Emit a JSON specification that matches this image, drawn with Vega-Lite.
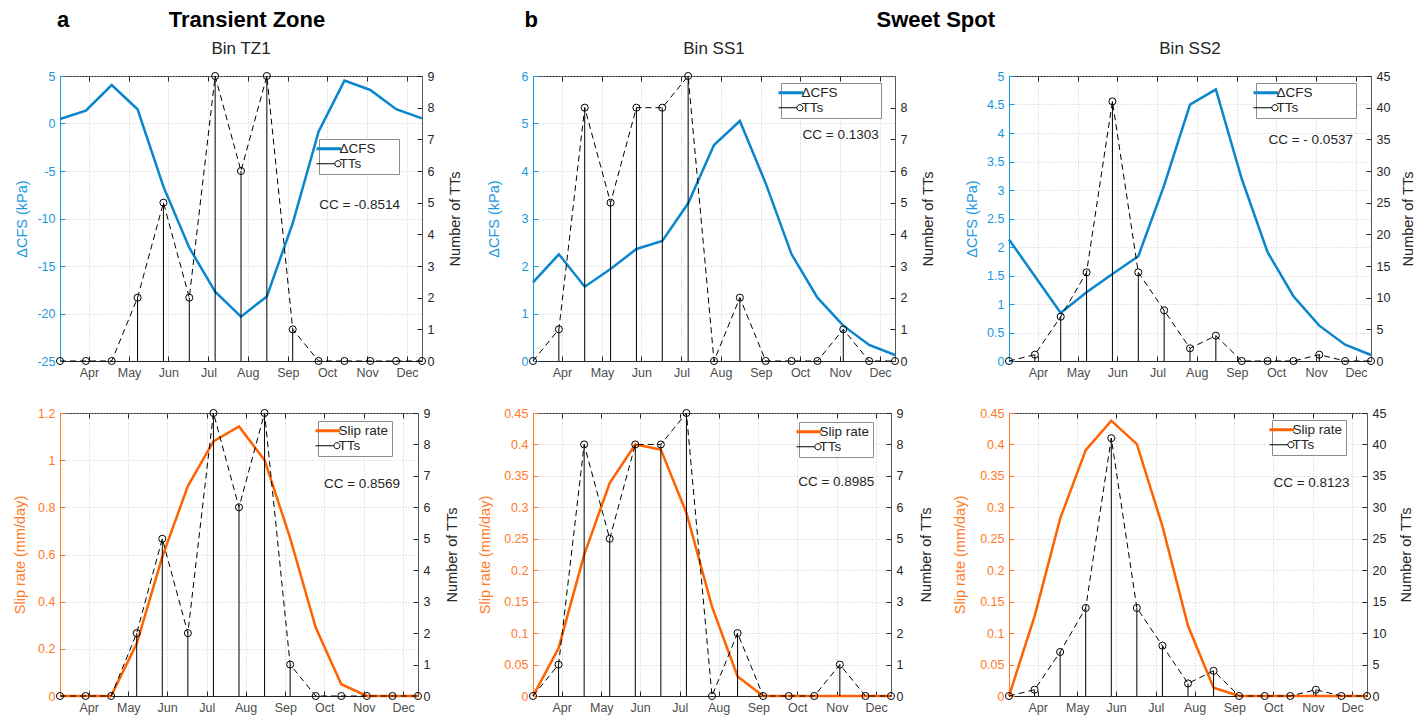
{
"$schema": "https://vega.github.io/schema/vega-lite/v6.json",
"padding": {"left": 12, "top": 8, "right": 4, "bottom": 4},
"background": "white",
"datasets": {
"tz1": [
{"i":0,"cfs":0.47,"slip":0,"tt":0},{"i":1,"cfs":1.35,"slip":0,"tt":0},{"i":2,"cfs":4.05,"slip":0,"tt":0},{"i":3,"cfs":1.5,"slip":0.222,"tt":2},{"i":4,"cfs":-6.65,"slip":0.59,"tt":5},{"i":5,"cfs":-13.07,"slip":0.89,"tt":2},{"i":6,"cfs":-17.7,"slip":1.08,"tt":9},{"i":7,"cfs":-20.33,"slip":1.143,"tt":6},{"i":8,"cfs":-18.2,"slip":1.0,"tt":9},{"i":9,"cfs":-10.5,"slip":0.67,"tt":1},{"i":10,"cfs":-0.86,"slip":0.29,"tt":0},{"i":11,"cfs":4.51,"slip":0.05,"tt":0},{"i":12,"cfs":3.53,"slip":0,"tt":0},{"i":13,"cfs":1.5,"slip":0,"tt":0},{"i":14,"cfs":0.54,"slip":0,"tt":0}],
"ss1": [
{"i":0,"cfs":1.656,"slip":0,"tt":0},{"i":1,"cfs":2.246,"slip":0.076,"tt":1},{"i":2,"cfs":1.565,"slip":0.2245,"tt":8},{"i":3,"cfs":1.937,"slip":0.3386,"tt":5},{"i":4,"cfs":2.358,"slip":0.4,"tt":8},{"i":5,"cfs":2.526,"slip":0.392,"tt":8},{"i":6,"cfs":3.32,"slip":0.291,"tt":9},{"i":7,"cfs":4.547,"slip":0.142,"tt":0},{"i":8,"cfs":5.053,"slip":0.031,"tt":2},{"i":9,"cfs":3.74,"slip":0,"tt":0},{"i":10,"cfs":2.246,"slip":0,"tt":0},{"i":11,"cfs":1.333,"slip":0,"tt":0},{"i":12,"cfs":0.744,"slip":0,"tt":1},{"i":13,"cfs":0.337,"slip":0,"tt":0},{"i":14,"cfs":0.126,"slip":0,"tt":0}],
"ss2": [
{"i":0,"cfs":2.131,"slip":0,"tt":0},{"i":1,"cfs":1.487,"slip":0.1266,"tt":1},{"i":2,"cfs":0.843,"slip":0.282,"tt":7},{"i":3,"cfs":1.206,"slip":0.391,"tt":14},{"i":4,"cfs":1.528,"slip":0.4378,"tt":41},{"i":5,"cfs":1.838,"slip":0.4005,"tt":14},{"i":6,"cfs":3.08,"slip":0.27,"tt":8},{"i":7,"cfs":4.497,"slip":0.1117,"tt":2},{"i":8,"cfs":4.766,"slip":0.0133,"tt":4},{"i":9,"cfs":3.197,"slip":0,"tt":0},{"i":10,"cfs":1.909,"slip":0,"tt":0},{"i":11,"cfs":1.136,"slip":0,"tt":0},{"i":12,"cfs":0.62,"slip":0,"tt":1},{"i":13,"cfs":0.287,"slip":0,"tt":0},{"i":14,"cfs":0.105,"slip":0,"tt":0}]
},
"config": {
"font": "Liberation Sans",
"view": {"stroke": "#262626", "strokeWidth": 1},
"axis": {"labelFontSize": 12.5, "titleFontSize": 14.5, "titleFontWeight": "normal", "tickSize": -5, "tickCount": 30, "labelPadding": 10, "gridColor": "#c8c8c8", "gridDash": [1, 2], "gridOpacity": 0.9, "domainColor": "#262626", "tickColor": "#262626", "labelColor": "#262626", "titleColor": "#262626", "labelFont": "Liberation Sans", "titleFont": "Liberation Sans"},
"axisX": {"labelColor": "#4d4d4d"},
"legend": {"orient": "none", "strokeColor": "#8c8c8c", "fillColor": "#ffffff", "padding": 3, "labelFontSize": 13.5, "labelColor": "#262626", "rowPadding": 0, "symbolSize": 600, "labelOffset": 4, "labelLimit": 300},
"title": {"fontSize": 17, "fontWeight": "normal", "color": "#262626", "offset": 12, "anchor": "middle"}
},
"resolve": {"scale": {"color": "independent"}},
"spacing": 14,
"hconcat": [
{"title": {"text": "a", "anchor": "start", "fontSize": 22, "fontWeight": "bold", "color": "#000000", "dx": 45, "dy": 23, "offset": 0},
 "resolve": {"scale": {"color": "independent"}},
 "vconcat": [
 {"title": {"text": "Transient Zone", "fontSize": 22, "fontWeight": "bold", "color": "#000000", "offset": 8, "dx": 10},
  "resolve": {"scale": {"color": "independent"}},
  "spacing": 27,
  "vconcat": [
  {"title": {"text": "Bin TZ1"}, "width": 362, "height": 285, "data": {"name": "tz1"},
   "resolve": {"scale": {"y": "independent"}, "axis": {"x": "independent"}},
   "layer": [
   {"layer": [
    {"mark": {"type": "line", "strokeWidth": 2.5},
     "encoding": {
      "x": {"field": "i", "type": "quantitative", "scale": {"domain": [0, 14], "nice": false, "zero": false}, "axis": {"orient": "bottom", "values": [1.12, 2.67, 4.19, 5.74, 7.26, 8.81, 10.33, 11.88, 13.42], "tickCount": 30, "labelExpr": "['Apr','May','Jun','Jul','Aug','Sep','Oct','Nov','Dec'][round((datum.value-1.12)/1.5375)]", "title": null, "grid": true}},
      "y": {"field": "cfs", "type": "quantitative", "scale": {"domain": [-25, 5], "nice": false, "zero": false}, "axis": {"orient": "left", "values": [-25, -20, -15, -10, -5, 0, 5], "tickCount": 30, "labelExpr": "'' + datum.value", "title": "ΔCFS (kPa)", "titleX": -38, "titleY": 142.5, "titleAngle": 270, "titleBaseline": "middle", "titleAlign": "center", "labelColor": "#1A98DD", "titleColor": "#1A98DD", "domainColor": "#1A98DD", "tickColor": "#1A98DD", "grid": true}},
      "color": {"datum": "ΔCFS", "type": "nominal", "scale": {"domain": ["ΔCFS", "TTs"], "range": ["#0A86CD", "#000000"]}, "legend": {"title": null, "legendX": 259, "legendY": 63, "encode": {"labels": {"update": {"text": {"signal": "datum.label + '\u2800\u2800'"}}}, "symbols": {"update": {"shape": {"signal": "datum.value === 'TTs' ? 'M-1,0H0.5M1,0A0.25,0.25,0,1,1,0.5,0A0.25,0.25,0,1,1,1,0' : 'stroke'"}, "strokeWidth": {"signal": "datum.value === 'TTs' ? 1 : 3"}, "fill": {"value": "transparent"}}}}}}
     }},
    {"data": {"values": [{}]}, "mark": {"type": "text", "text": "CC = -0.8514", "align": "right", "baseline": "middle", "fontSize": 13.5, "color": "#262626"},
     "encoding": {"x": {"datum": 13.15, "type": "quantitative"}, "y": {"datum": -8.55, "type": "quantitative"}}}
   ]},
   {"layer": [
    {"mark": {"type": "rule", "color": "#000000", "strokeWidth": 1},
     "encoding": {
      "x": {"field": "i", "type": "quantitative", "axis": {"orient": "top", "values": [1.12, 2.67, 4.19, 5.74, 7.26, 8.81, 10.33, 11.88, 13.42], "tickCount": 30, "labels": false, "title": null, "grid": false, "domain": false}},
      "y": {"field": "tt", "type": "quantitative", "scale": {"domain": [0, 9], "nice": false}, "axis": {"orient": "right", "values": [0,1,2,3,4,5,6,7,8,9], "tickCount": 30, "labelExpr": "'' + datum.value", "title": "Number of TTs", "titleX": 33, "titleY": 142.5, "titleAngle": 270, "titleBaseline": "middle", "titleAlign": "center", "domainColor": "#595959", "grid": false}},
      "y2": {"datum": 0}}},
    {"mark": {"type": "line", "strokeDash": [6, 4], "strokeWidth": 1},
     "encoding": {"x": {"field": "i", "type": "quantitative"}, "y": {"field": "tt", "type": "quantitative"}, "color": {"datum": "TTs", "type": "nominal"}}},
    {"mark": {"type": "point", "shape": "circle", "filled": false, "color": "#000000", "size": 50, "strokeWidth": 1, "opacity": 1},
     "encoding": {"x": {"field": "i", "type": "quantitative"}, "y": {"field": "tt", "type": "quantitative"}}}
   ]}
  ]},
  {"width": 358, "height": 283, "data": {"name": "tz1"},
   "resolve": {"scale": {"y": "independent"}, "axis": {"x": "independent"}},
   "layer": [
   {"layer": [
    {"mark": {"type": "line", "strokeWidth": 2.5},
     "encoding": {
      "x": {"field": "i", "type": "quantitative", "scale": {"domain": [0, 14], "nice": false, "zero": false}, "axis": {"orient": "bottom", "values": [1.12, 2.67, 4.19, 5.74, 7.26, 8.81, 10.33, 11.88, 13.42], "tickCount": 30, "labelExpr": "['Apr','May','Jun','Jul','Aug','Sep','Oct','Nov','Dec'][round((datum.value-1.12)/1.5375)]", "title": null, "grid": true}},
      "y": {"field": "slip", "type": "quantitative", "scale": {"domain": [0, 1.2], "nice": false, "zero": false}, "axis": {"orient": "left", "values": [0, 0.2, 0.4, 0.6, 0.8, 1, 1.2], "tickCount": 30, "labelExpr": "'' + datum.value", "title": "Slip rate (mm/day)", "titleX": -39.5, "titleY": 141.5, "titleAngle": 270, "titleBaseline": "middle", "titleAlign": "center", "labelColor": "#FF7A26", "titleColor": "#FF7A26", "domainColor": "#FF7A26", "tickColor": "#FF7A26", "grid": true}},
      "color": {"datum": "Slip rate", "type": "nominal", "scale": {"domain": ["Slip rate", "TTs"], "range": ["#FF6200", "#000000"]}, "legend": {"title": null, "legendX": 258, "legendY": 8, "encode": {"symbols": {"update": {"shape": {"signal": "datum.value === 'TTs' ? 'M-1,0H0.5M1,0A0.25,0.25,0,1,1,0.5,0A0.25,0.25,0,1,1,1,0' : 'stroke'"}, "strokeWidth": {"signal": "datum.value === 'TTs' ? 1 : 3"}, "fill": {"value": "transparent"}}}}}}
     }},
    {"data": {"values": [{}]}, "mark": {"type": "text", "text": "CC = 0.8569", "align": "right", "baseline": "middle", "fontSize": 13.5, "color": "#262626"},
     "encoding": {"x": {"datum": 13.3, "type": "quantitative"}, "y": {"datum": 0.9, "type": "quantitative"}}}
   ]},
   {"layer": [
    {"mark": {"type": "rule", "color": "#000000", "strokeWidth": 1},
     "encoding": {
      "x": {"field": "i", "type": "quantitative", "axis": {"orient": "top", "values": [1.12, 2.67, 4.19, 5.74, 7.26, 8.81, 10.33, 11.88, 13.42], "tickCount": 30, "labels": false, "title": null, "grid": false, "domain": false}},
      "y": {"field": "tt", "type": "quantitative", "scale": {"domain": [0, 9], "nice": false}, "axis": {"orient": "right", "values": [0,1,2,3,4,5,6,7,8,9], "tickCount": 30, "labelExpr": "'' + datum.value", "title": "Number of TTs", "titleX": 34, "titleY": 141.5, "titleAngle": 270, "titleBaseline": "middle", "titleAlign": "center", "domainColor": "#595959", "grid": false}},
      "y2": {"datum": 0}}},
    {"mark": {"type": "line", "strokeDash": [6, 4], "strokeWidth": 1},
     "encoding": {"x": {"field": "i", "type": "quantitative"}, "y": {"field": "tt", "type": "quantitative"}, "color": {"datum": "TTs", "type": "nominal"}}},
    {"mark": {"type": "point", "shape": "circle", "filled": false, "color": "#000000", "size": 50, "strokeWidth": 1, "opacity": 1},
     "encoding": {"x": {"field": "i", "type": "quantitative"}, "y": {"field": "tt", "type": "quantitative"}}}
   ]}
  ]}
  ]}
 ]},
{"title": {"text": "b", "anchor": "start", "fontSize": 22, "fontWeight": "bold", "color": "#000000", "dx": 48, "dy": 23, "offset": 0},
 "resolve": {"scale": {"color": "independent"}},
 "vconcat": [
 {"title": {"text": "Sweet Spot", "fontSize": 22, "fontWeight": "bold", "color": "#000000", "offset": 8, "dx": -10},
  "resolve": {"scale": {"color": "independent"}},
  "spacing": 16,
  "hconcat": [
  {"spacing": 27, "resolve": {"scale": {"color": "independent"}},
   "vconcat": [
   {"title": {"text": "Bin SS1"}, "width": 362, "height": 285, "data": {"name": "ss1"},
    "resolve": {"scale": {"y": "independent"}, "axis": {"x": "independent"}},
    "layer": [
    {"layer": [
     {"mark": {"type": "line", "strokeWidth": 2.5},
      "encoding": {
       "x": {"field": "i", "type": "quantitative", "scale": {"domain": [0, 14], "nice": false, "zero": false}, "axis": {"orient": "bottom", "values": [1.12, 2.67, 4.19, 5.74, 7.26, 8.81, 10.33, 11.88, 13.42], "tickCount": 30, "labelExpr": "['Apr','May','Jun','Jul','Aug','Sep','Oct','Nov','Dec'][round((datum.value-1.12)/1.5375)]", "title": null, "grid": true}},
       "y": {"field": "cfs", "type": "quantitative", "scale": {"domain": [0, 6], "nice": false, "zero": false}, "axis": {"orient": "left", "values": [0, 1, 2, 3, 4, 5, 6], "tickCount": 30, "labelExpr": "'' + datum.value", "title": "ΔCFS (kPa)", "titleX": -39, "titleY": 142.5, "titleAngle": 270, "titleBaseline": "middle", "titleAlign": "center", "labelColor": "#1A98DD", "titleColor": "#1A98DD", "domainColor": "#1A98DD", "tickColor": "#1A98DD", "grid": true}},
       "color": {"datum": "ΔCFS", "type": "nominal", "scale": {"domain": ["ΔCFS", "TTs"], "range": ["#0A86CD", "#000000"]}, "legend": {"title": null, "legendX": 248, "legendY": 7, "encode": {"labels": {"update": {"text": {"signal": "datum.label + '\u2800\u2800\u2800\u2800'"}}}, "symbols": {"update": {"shape": {"signal": "datum.value === 'TTs' ? 'M-1,0H0.5M1,0A0.25,0.25,0,1,1,0.5,0A0.25,0.25,0,1,1,1,0' : 'stroke'"}, "strokeWidth": {"signal": "datum.value === 'TTs' ? 1 : 3"}, "fill": {"value": "transparent"}}}}}}
      }},
     {"data": {"values": [{}]}, "mark": {"type": "text", "text": "CC = 0.1303", "align": "right", "baseline": "middle", "fontSize": 13.5, "color": "#262626"},
      "encoding": {"x": {"datum": 13.37, "type": "quantitative"}, "y": {"datum": 4.75, "type": "quantitative"}}}
    ]},
    {"layer": [
     {"mark": {"type": "rule", "color": "#000000", "strokeWidth": 1},
      "encoding": {
       "x": {"field": "i", "type": "quantitative", "axis": {"orient": "top", "values": [1.12, 2.67, 4.19, 5.74, 7.26, 8.81, 10.33, 11.88, 13.42], "tickCount": 30, "labels": false, "title": null, "grid": false, "domain": false}},
       "y": {"field": "tt", "type": "quantitative", "scale": {"domain": [0, 9], "nice": false}, "axis": {"orient": "right", "values": [0,1,2,3,4,5,6,7,8], "tickCount": 30, "labelExpr": "'' + datum.value", "title": "Number of TTs", "titleX": 33, "titleY": 142.5, "titleAngle": 270, "titleBaseline": "middle", "titleAlign": "center", "domainColor": "#595959", "grid": false}},
       "y2": {"datum": 0}}},
     {"mark": {"type": "line", "strokeDash": [6, 4], "strokeWidth": 1},
      "encoding": {"x": {"field": "i", "type": "quantitative"}, "y": {"field": "tt", "type": "quantitative"}, "color": {"datum": "TTs", "type": "nominal"}}},
     {"mark": {"type": "point", "shape": "circle", "filled": false, "color": "#000000", "size": 50, "strokeWidth": 1, "opacity": 1},
      "encoding": {"x": {"field": "i", "type": "quantitative"}, "y": {"field": "tt", "type": "quantitative"}}}
    ]}
   ]},
   {"width": 358, "height": 283, "data": {"name": "ss1"},
    "resolve": {"scale": {"y": "independent"}, "axis": {"x": "independent"}},
    "layer": [
    {"layer": [
     {"mark": {"type": "line", "strokeWidth": 2.5},
      "encoding": {
       "x": {"field": "i", "type": "quantitative", "scale": {"domain": [0, 14], "nice": false, "zero": false}, "axis": {"orient": "bottom", "values": [1.12, 2.67, 4.19, 5.74, 7.26, 8.81, 10.33, 11.88, 13.42], "tickCount": 30, "labelExpr": "['Apr','May','Jun','Jul','Aug','Sep','Oct','Nov','Dec'][round((datum.value-1.12)/1.5375)]", "title": null, "grid": true}},
       "y": {"field": "slip", "type": "quantitative", "scale": {"domain": [0, 0.45], "nice": false, "zero": false}, "axis": {"orient": "left", "values": [0, 0.05, 0.1, 0.15, 0.2, 0.25, 0.3, 0.35, 0.4, 0.45], "tickCount": 30, "labelExpr": "'' + datum.value", "title": "Slip rate (mm/day)", "titleX": -48, "titleY": 141.5, "titleAngle": 270, "titleBaseline": "middle", "titleAlign": "center", "labelColor": "#FF7A26", "titleColor": "#FF7A26", "domainColor": "#FF7A26", "tickColor": "#FF7A26", "grid": true}},
       "color": {"datum": "Slip rate", "type": "nominal", "scale": {"domain": ["Slip rate", "TTs"], "range": ["#FF6200", "#000000"]}, "legend": {"title": null, "legendX": 266, "legendY": 9, "encode": {"symbols": {"update": {"shape": {"signal": "datum.value === 'TTs' ? 'M-1,0H0.5M1,0A0.25,0.25,0,1,1,0.5,0A0.25,0.25,0,1,1,1,0' : 'stroke'"}, "strokeWidth": {"signal": "datum.value === 'TTs' ? 1 : 3"}, "fill": {"value": "transparent"}}}}}}
      }},
     {"data": {"values": [{}]}, "mark": {"type": "text", "text": "CC = 0.8985", "align": "right", "baseline": "middle", "fontSize": 13.5, "color": "#262626"},
      "encoding": {"x": {"datum": 13.35, "type": "quantitative"}, "y": {"datum": 0.34, "type": "quantitative"}}}
    ]},
    {"layer": [
     {"mark": {"type": "rule", "color": "#000000", "strokeWidth": 1},
      "encoding": {
       "x": {"field": "i", "type": "quantitative", "axis": {"orient": "top", "values": [1.12, 2.67, 4.19, 5.74, 7.26, 8.81, 10.33, 11.88, 13.42], "tickCount": 30, "labels": false, "title": null, "grid": false, "domain": false}},
       "y": {"field": "tt", "type": "quantitative", "scale": {"domain": [0, 9], "nice": false}, "axis": {"orient": "right", "values": [0,1,2,3,4,5,6,7,8,9], "tickCount": 30, "labelExpr": "'' + datum.value", "title": "Number of TTs", "titleX": 35, "titleY": 141.5, "titleAngle": 270, "titleBaseline": "middle", "titleAlign": "center", "domainColor": "#595959", "grid": false}},
       "y2": {"datum": 0}}},
     {"mark": {"type": "line", "strokeDash": [6, 4], "strokeWidth": 1},
      "encoding": {"x": {"field": "i", "type": "quantitative"}, "y": {"field": "tt", "type": "quantitative"}, "color": {"datum": "TTs", "type": "nominal"}}},
     {"mark": {"type": "point", "shape": "circle", "filled": false, "color": "#000000", "size": 50, "strokeWidth": 1, "opacity": 1},
      "encoding": {"x": {"field": "i", "type": "quantitative"}, "y": {"field": "tt", "type": "quantitative"}}}
    ]}
   ]}
   ]},
  {"spacing": 27, "resolve": {"scale": {"color": "independent"}},
   "vconcat": [
   {"title": {"text": "Bin SS2"}, "width": 362, "height": 285, "data": {"name": "ss2"},
    "resolve": {"scale": {"y": "independent"}, "axis": {"x": "independent"}},
    "layer": [
    {"layer": [
     {"mark": {"type": "line", "strokeWidth": 2.5},
      "encoding": {
       "x": {"field": "i", "type": "quantitative", "scale": {"domain": [0, 14], "nice": false, "zero": false}, "axis": {"orient": "bottom", "values": [1.12, 2.67, 4.19, 5.74, 7.26, 8.81, 10.33, 11.88, 13.42], "tickCount": 30, "labelExpr": "['Apr','May','Jun','Jul','Aug','Sep','Oct','Nov','Dec'][round((datum.value-1.12)/1.5375)]", "title": null, "grid": true}},
       "y": {"field": "cfs", "type": "quantitative", "scale": {"domain": [0, 5], "nice": false, "zero": false}, "axis": {"orient": "left", "values": [0, 0.5, 1, 1.5, 2, 2.5, 3, 3.5, 4, 4.5, 5], "tickCount": 30, "labelExpr": "'' + datum.value", "title": "ΔCFS (kPa)", "titleX": -37, "titleY": 142.5, "titleAngle": 270, "titleBaseline": "middle", "titleAlign": "center", "labelColor": "#1A98DD", "titleColor": "#1A98DD", "domainColor": "#1A98DD", "tickColor": "#1A98DD", "grid": true}},
       "color": {"datum": "ΔCFS", "type": "nominal", "scale": {"domain": ["ΔCFS", "TTs"], "range": ["#0A86CD", "#000000"]}, "legend": {"title": null, "legendX": 247, "legendY": 7, "encode": {"labels": {"update": {"text": {"signal": "datum.label + '\u2800\u2800\u2800\u2800'"}}}, "symbols": {"update": {"shape": {"signal": "datum.value === 'TTs' ? 'M-1,0H0.5M1,0A0.25,0.25,0,1,1,0.5,0A0.25,0.25,0,1,1,1,0' : 'stroke'"}, "strokeWidth": {"signal": "datum.value === 'TTs' ? 1 : 3"}, "fill": {"value": "transparent"}}}}}}
      }},
     {"data": {"values": [{}]}, "mark": {"type": "text", "text": "CC = - 0.0537", "align": "right", "baseline": "middle", "fontSize": 13.5, "color": "#262626"},
      "encoding": {"x": {"datum": 13.3, "type": "quantitative"}, "y": {"datum": 3.87, "type": "quantitative"}}}
    ]},
    {"layer": [
     {"mark": {"type": "rule", "color": "#000000", "strokeWidth": 1},
      "encoding": {
       "x": {"field": "i", "type": "quantitative", "axis": {"orient": "top", "values": [1.12, 2.67, 4.19, 5.74, 7.26, 8.81, 10.33, 11.88, 13.42], "tickCount": 30, "labels": false, "title": null, "grid": false, "domain": false}},
       "y": {"field": "tt", "type": "quantitative", "scale": {"domain": [0, 45], "nice": false}, "axis": {"orient": "right", "values": [0,5,10,15,20,25,30,35,40,45], "tickCount": 30, "labelExpr": "'' + datum.value", "title": "Number of TTs", "titleX": 37, "titleY": 142.5, "titleAngle": 270, "titleBaseline": "middle", "titleAlign": "center", "domainColor": "#595959", "grid": false}},
       "y2": {"datum": 0}}},
     {"mark": {"type": "line", "strokeDash": [6, 4], "strokeWidth": 1},
      "encoding": {"x": {"field": "i", "type": "quantitative"}, "y": {"field": "tt", "type": "quantitative"}, "color": {"datum": "TTs", "type": "nominal"}}},
     {"mark": {"type": "point", "shape": "circle", "filled": false, "color": "#000000", "size": 50, "strokeWidth": 1, "opacity": 1},
      "encoding": {"x": {"field": "i", "type": "quantitative"}, "y": {"field": "tt", "type": "quantitative"}}}
    ]}
   ]},
   {"width": 358, "height": 283, "data": {"name": "ss2"},
    "resolve": {"scale": {"y": "independent"}, "axis": {"x": "independent"}},
    "layer": [
    {"layer": [
     {"mark": {"type": "line", "strokeWidth": 2.5},
      "encoding": {
       "x": {"field": "i", "type": "quantitative", "scale": {"domain": [0, 14], "nice": false, "zero": false}, "axis": {"orient": "bottom", "values": [1.12, 2.67, 4.19, 5.74, 7.26, 8.81, 10.33, 11.88, 13.42], "tickCount": 30, "labelExpr": "['Apr','May','Jun','Jul','Aug','Sep','Oct','Nov','Dec'][round((datum.value-1.12)/1.5375)]", "title": null, "grid": true}},
       "y": {"field": "slip", "type": "quantitative", "scale": {"domain": [0, 0.45], "nice": false, "zero": false}, "axis": {"orient": "left", "values": [0, 0.05, 0.1, 0.15, 0.2, 0.25, 0.3, 0.35, 0.4, 0.45], "tickCount": 30, "labelExpr": "'' + datum.value", "title": "Slip rate (mm/day)", "titleX": -49, "titleY": 141.5, "titleAngle": 270, "titleBaseline": "middle", "titleAlign": "center", "labelColor": "#FF7A26", "titleColor": "#FF7A26", "domainColor": "#FF7A26", "tickColor": "#FF7A26", "grid": true}},
       "color": {"datum": "Slip rate", "type": "nominal", "scale": {"domain": ["Slip rate", "TTs"], "range": ["#FF6200", "#000000"]}, "legend": {"title": null, "legendX": 263, "legendY": 7, "encode": {"symbols": {"update": {"shape": {"signal": "datum.value === 'TTs' ? 'M-1,0H0.5M1,0A0.25,0.25,0,1,1,0.5,0A0.25,0.25,0,1,1,1,0' : 'stroke'"}, "strokeWidth": {"signal": "datum.value === 'TTs' ? 1 : 3"}, "fill": {"value": "transparent"}}}}}}
      }},
     {"data": {"values": [{}]}, "mark": {"type": "text", "text": "CC = 0.8123", "align": "right", "baseline": "middle", "fontSize": 13.5, "color": "#262626"},
      "encoding": {"x": {"datum": 13.32, "type": "quantitative"}, "y": {"datum": 0.338, "type": "quantitative"}}}
    ]},
    {"layer": [
     {"mark": {"type": "rule", "color": "#000000", "strokeWidth": 1},
      "encoding": {
       "x": {"field": "i", "type": "quantitative", "axis": {"orient": "top", "values": [1.12, 2.67, 4.19, 5.74, 7.26, 8.81, 10.33, 11.88, 13.42], "tickCount": 30, "labels": false, "title": null, "grid": false, "domain": false}},
       "y": {"field": "tt", "type": "quantitative", "scale": {"domain": [0, 45], "nice": false}, "axis": {"orient": "right", "values": [0,5,10,15,20,25,30,35,40,45], "tickCount": 30, "labelExpr": "'' + datum.value", "title": "Number of TTs", "titleX": 39, "titleY": 141.5, "titleAngle": 270, "titleBaseline": "middle", "titleAlign": "center", "domainColor": "#595959", "grid": false}},
       "y2": {"datum": 0}}},
     {"mark": {"type": "line", "strokeDash": [6, 4], "strokeWidth": 1},
      "encoding": {"x": {"field": "i", "type": "quantitative"}, "y": {"field": "tt", "type": "quantitative"}, "color": {"datum": "TTs", "type": "nominal"}}},
     {"mark": {"type": "point", "shape": "circle", "filled": false, "color": "#000000", "size": 50, "strokeWidth": 1, "opacity": 1},
      "encoding": {"x": {"field": "i", "type": "quantitative"}, "y": {"field": "tt", "type": "quantitative"}}}
    ]}
   ]}
   ]}
  ]}
 ]}
]
}
